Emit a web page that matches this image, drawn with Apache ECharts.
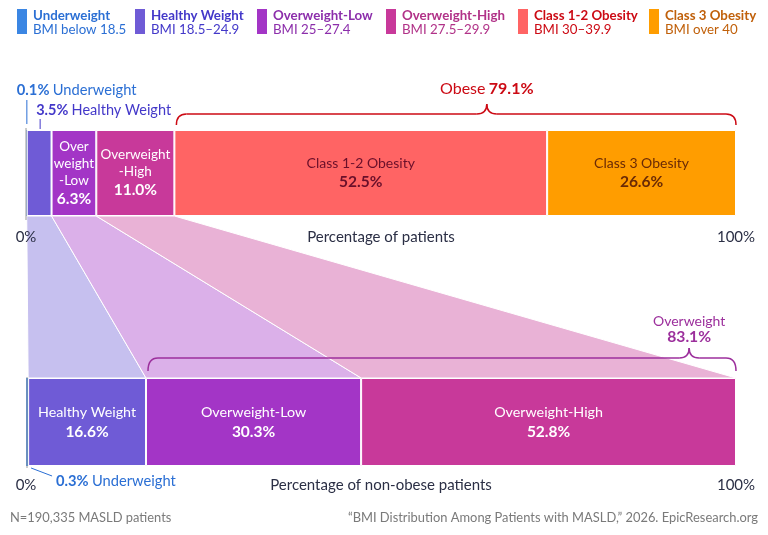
<!DOCTYPE html>
<html>
<head>
<meta charset="utf-8">
<script src="https://cdn.jsdelivr.net/npm/echarts@6/dist/echarts.min.js"></script>
<style>
  html, body { margin: 0; padding: 0; background: #fff; }
  #chart { width: 768px; height: 535px; }
</style>
</head>
<body>
<div id="chart"></div>
<script>
// data
var groups = ['Underweight', 'Healthy Weight', 'Overweight-Low', 'Overweight-High', 'Class 1-2 Obesity', 'Class 3 Obesity'];
var bmiRanges = ['BMI below 18.5', 'BMI 18.5–24.9', 'BMI 25–27.4', 'BMI 27.5–29.9', 'BMI 30–39.9', 'BMI over 40'];
var allPatients = [0.1, 3.5, 6.3, 11.0, 52.5, 26.6];
var nonObese = [0.3, 16.6, 30.3, 52.8];
var obeseTotal = 79.1;
var overweightTotal = 83.1;
var topLabels = [null, null, ['Over', 'weight', '-Low'], ['Overweight', '-High'], ['Class 1-2 Obesity'], ['Class 3 Obesity']];

// styles
var FONT = 'Lato, "Open Sans", sans-serif';
var colors = ['#3b86e3', '#6f5bd6', '#a335c6', '#c8399a', '#ff6464', '#ff9d00'];
var textColors = ['#2b6fd4', '#4338c9', '#8c2eab', '#b13288', '#cc0a14', '#c0600a'];
var lightColors = ['#bcd4f5', '#c6c0ef', '#dbb0e9', '#e9b2d6'];
var innerText = ['#fff', '#fff', '#fff', '#fff', '#6a0f2a', '#6a2a05'];
var legendX = [17, 135, 257, 386, 518, 649];

function cum(arr) {
  var out = [0], s = 0;
  arr.forEach(function (v) { s += v; out.push(+s.toFixed(2)); });
  return out;
}
var topCum = cum(allPatients);
var botCum = cum(nonObese);

var chart = echarts.init(document.getElementById('chart'));

function xAxisCfg(idx, name, show, margin) {
  return {
    gridIndex: idx, type: 'value', min: 0, max: 100, interval: 100,
    show: show, z: 10,
    axisLine: { show: false }, axisTick: { show: false }, splitLine: { show: false },
    axisLabel: { margin: margin, color: '#2b2f45', fontSize: 15, fontFamily: FONT,
      formatter: function (v) { return v + '%'; } },
    name: name, nameLocation: 'middle', nameGap: margin, nameMoveOverlap: false,
    nameTextStyle: { color: '#2b2f45', fontSize: 15, fontFamily: FONT, verticalAlign: 'top' }
  };
}
function yCatCfg(idx) {
  return { gridIndex: idx, type: 'category', data: ['x'], show: false };
}

var series = [];
// top bar
allPatients.forEach(function (v, i) {
  var lines = topLabels[i];
  var small = i === 2 || i === 3;
  series.push({
    type: 'bar', xAxisIndex: 0, yAxisIndex: 0, stack: 'top', barWidth: '100%',
    data: [v], silent: true,
    itemStyle: { color: colors[i], borderColor: '#fff', borderWidth: i > 0 ? 1 : 0 },
    label: {
      show: !!lines, position: 'inside',
      formatter: function (p) {
        return lines.map(function (l) { return '{n|' + l + '}'; }).join('\n') +
          '\n{b|' + p.value.toFixed(1) + '%}';
      },
      rich: {
        n: { color: innerText[i], fontSize: small ? 13.5 : 14, fontFamily: FONT, lineHeight: small ? 17 : 18 },
        b: { color: innerText[i], fontSize: 15.5, fontWeight: 'bold', fontFamily: FONT, lineHeight: 19 }
      }
    }
  });
});
// bottom bar
nonObese.forEach(function (v, i) {
  series.push({
    type: 'bar', xAxisIndex: 1, yAxisIndex: 1, stack: 'bot', barWidth: '100%',
    data: [v], silent: true,
    itemStyle: { color: colors[i], borderColor: '#fff', borderWidth: i > 0 ? 1 : 0 },
    label: {
      show: i > 0, position: 'inside',
      formatter: function (p) { return '{n|' + groups[i] + '}\n{b|' + p.value.toFixed(1) + '%}'; },
      rich: {
        n: { color: '#fff', fontSize: 14.3, fontFamily: FONT, lineHeight: 19 },
        b: { color: '#fff', fontSize: 15.5, fontWeight: 'bold', fontFamily: FONT, lineHeight: 19 }
      }
    }
  });
});

// funnel between bars
var funnelData = [];
for (var k = 1; k < nonObese.length; k++) {
  funnelData.push([topCum[k], topCum[k + 1], botCum[k], botCum[k + 1], k]);
}
series.push({
  type: 'custom', xAxisIndex: 2, yAxisIndex: 2, silent: true, z: 1,
  data: funnelData,
  renderItem: function (params, api) {
    var k = api.value(4);
    return {
      type: 'polygon',
      shape: { points: [api.coord([api.value(0), 1]), api.coord([api.value(1), 1]),
                        api.coord([api.value(3), 0]), api.coord([api.value(2), 0])] },
      style: { fill: lightColors[k], stroke: '#fff', lineWidth: 1 }
    };
  }
});

function bracket(x0, x1, xc, yLine, yEnd, yCusp, color) {
  var r = 10, r2 = 10;
  var st = { stroke: color, lineWidth: 1.5, fill: null };
  return [
    { type: 'bezierCurve', shape: { x1: x0, y1: yEnd, cpx1: x0, cpy1: yLine, x2: x0 + r, y2: yLine }, style: st },
    { type: 'line', shape: { x1: x0 + r, y1: yLine, x2: xc - r2, y2: yLine }, style: st },
    { type: 'bezierCurve', shape: { x1: xc - r2, y1: yLine, cpx1: xc, cpy1: yLine, x2: xc, y2: yCusp }, style: st },
    { type: 'bezierCurve', shape: { x1: xc, y1: yCusp, cpx1: xc, cpy1: yLine, x2: xc + r2, y2: yLine }, style: st },
    { type: 'line', shape: { x1: xc + r2, y1: yLine, x2: x1 - r, y2: yLine }, style: st },
    { type: 'bezierCurve', shape: { x1: x1 - r, y1: yLine, cpx1: x1, cpy1: yLine, x2: x1, y2: yEnd }, style: st }
  ];
}

function pctLabel(x, y, pct, name, color, size) {
  return { type: 'text', style: { x: x, y: y, text: '{b|' + pct.toFixed(1) + '%} {n|' + name + '}',
    align: 'left', verticalAlign: 'middle',
    rich: { b: { fill: color, fontSize: size, fontWeight: 'bold', fontFamily: FONT },
            n: { fill: color, fontSize: size, fontFamily: FONT } } } };
}

// top annotations
series.push({
  type: 'custom', xAxisIndex: 0, yAxisIndex: 0, silent: true, z: 5,
  data: [[0]],
  renderItem: function (params, api) {
    var cs = params.coordSys;
    var top = cs.y, bot = cs.y + cs.height;
    var x0 = api.coord([0, 0])[0];
    var xu = api.coord([allPatients[0] / 2, 0])[0] + 0.5;
    var xh = api.coord([topCum[1] + allPatients[1] / 2, 0])[0] + 1;
    var xs = api.coord([topCum[4], 0])[0] + 2;
    var xe = api.coord([100, 0])[0];
    var xc = api.coord([64.9, 0])[0];
    var red = textColors[4];
    var ch = [
      { type: 'line', shape: { x1: x0, y1: top - 2, x2: x0, y2: bot + 4 }, style: { stroke: '#9a9a9a', lineWidth: 1 } },
      { type: 'line', shape: { x1: xu, y1: top - 30, x2: xu, y2: top - 6 }, style: { stroke: textColors[0], lineWidth: 1 } },
      pctLabel(xu - 10, top - 40, allPatients[0], groups[0], textColors[0], 14.7),
      { type: 'line', shape: { x1: xh, y1: top - 11, x2: xh, y2: top - 1 }, style: { stroke: textColors[1], lineWidth: 1 } },
      pctLabel(xh - 4, top - 20, allPatients[1], groups[1], textColors[1], 14.5),
      { type: 'text', style: { x: xc, y: top - 41, text: '{n|Obese} {b|' + obeseTotal.toFixed(1) + '%}',
          align: 'center', verticalAlign: 'middle',
          rich: { b: { fill: red, fontSize: 16, fontWeight: 'bold', fontFamily: FONT },
                  n: { fill: red, fontSize: 16, fontFamily: FONT } } } }
    ].concat(bracket(xs, xe, xc, top - 16, top - 5, top - 26, red));
    return { type: 'group', children: ch };
  }
});

// bottom annotations
series.push({
  type: 'custom', xAxisIndex: 1, yAxisIndex: 1, silent: true, z: 5,
  data: [[0]],
  renderItem: function (params, api) {
    var cs = params.coordSys;
    var top = cs.y, bot = cs.y + cs.height;
    var x0 = api.coord([0, 0])[0] + 1;
    var xu = api.coord([nonObese[0] / 2, 0])[0] + 4;
    var xs = api.coord([botCum[2], 0])[0] + 2;
    var xe = api.coord([100, 0])[0];
    var xc = api.coord([93.4, 0])[0];
    var pur = '#9c2f9c';
    var ch = [
      { type: 'line', shape: { x1: x0, y1: top - 1, x2: x0, y2: bot + 2 }, style: { stroke: '#9a9a9a', lineWidth: 1 } },
      { type: 'line', shape: { x1: xu, y1: bot + 2, x2: xu + 21, y2: bot + 10 }, style: { stroke: textColors[0], lineWidth: 1 } },
      pctLabel(xu + 25, bot + 15, nonObese[0], groups[0], textColors[0], 14.7),
      { type: 'text', style: { x: xc, y: top - 57, text: 'Overweight', align: 'center', verticalAlign: 'middle',
          fill: pur, fontSize: 14, fontFamily: FONT } },
      { type: 'text', style: { x: xc, y: top - 41, text: overweightTotal.toFixed(1) + '%', align: 'center', verticalAlign: 'middle',
          fill: pur, fontSize: 15.7, fontWeight: 'bold', fontFamily: FONT } }
    ].concat(bracket(xs, xe, xc, top - 20, top - 7, top - 30, pur));
    return { type: 'group', children: ch };
  }
});

// legend + footer
var legendEls = [];
groups.forEach(function (g, i) {
  legendEls.push({ type: 'rect', shape: { x: legendX[i], y: 9, width: 10, height: 25 }, style: { fill: colors[i] } });
  legendEls.push({ type: 'text', style: { x: legendX[i] + 16, y: 15.5, text: g, fill: textColors[i], fontSize: 13.3,
    fontWeight: 'bold', fontFamily: FONT, verticalAlign: 'middle' } });
  legendEls.push({ type: 'text', style: { x: legendX[i] + 16, y: 30, text: bmiRanges[i], fill: textColors[i], fontSize: 13.3,
    fontFamily: FONT, verticalAlign: 'middle' } });
});
legendEls.push({ type: 'text', style: { x: 10, y: 518, text: 'N=190,335 MASLD patients', fill: '#7a7a7a', fontSize: 12.9,
  fontFamily: FONT, verticalAlign: 'middle' } });
legendEls.push({ type: 'text', style: { x: 758, y: 518, text: '“BMI Distribution Among Patients with MASLD,” 2026. EpicResearch.org',
  fill: '#7a7a7a', fontSize: 12.9, fontFamily: FONT, align: 'right', verticalAlign: 'middle' } });

chart.setOption({
  animation: false,
  textStyle: { fontFamily: FONT },
  grid: [
    { left: 26, width: 710, top: 130, height: 86 },
    { left: 26, width: 710, top: 378, height: 88 },
    { left: 26, width: 710, top: 216, height: 162 }
  ],
  xAxis: [
    xAxisCfg(0, 'Percentage of patients', true, 14),
    xAxisCfg(1, 'Percentage of non-obese patients', true, 12),
    xAxisCfg(2, '', false, 0)
  ],
  yAxis: [
    yCatCfg(0), yCatCfg(1),
    { gridIndex: 2, type: 'value', min: 0, max: 1, show: false }
  ],
  graphic: legendEls,
  series: series
});
</script>
</body>
</html>
